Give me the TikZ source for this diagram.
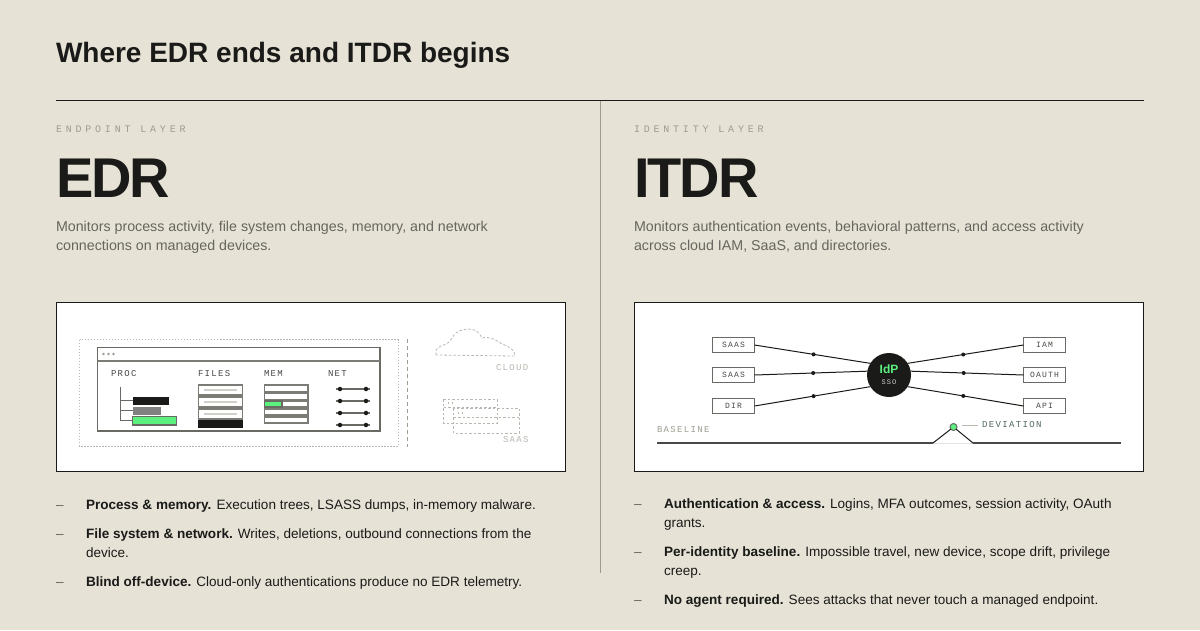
\documentclass[tikz,border=0pt]{standalone}
\usepackage{fontspec}
\usepackage{xcolor}
\usepackage{tikz}
\setmainfont{Liberation Sans}
\newfontfamily\headfont[LetterSpace=-3.5]{Liberation Sans}
\newfontfamily\tagfont[LetterSpace=38]{Liberation Mono}
\newfontfamily\labfont[LetterSpace=15]{Liberation Mono}
\definecolor{paper}{HTML}{E6E2D6}
\definecolor{ink}{HTML}{1A1A18}
\definecolor{line_gray}{HTML}{6A6A64}
\definecolor{cell_gray}{HTML}{7C7C76}
\definecolor{text_gray}{HTML}{66665E}
\definecolor{tag_gray}{HTML}{9C9C90}
\definecolor{faint_gray}{HTML}{B8B8B0}
\definecolor{pale_gray}{HTML}{D0D0CA}
\definecolor{mark_green}{HTML}{5CF07E}
\definecolor{dev_green}{HTML}{4E6A5A}
\tikzset{
    tnode/.style = {inner sep=0pt, outer sep=0pt, anchor=base west},
    title_text/.style = {tnode, ink, font=\bfseries\fontsize{28}{34}\selectfont},
    tag_text/.style = {tnode, tag_gray, font=\tagfont\fontsize{10}{12}\selectfont},
    head_text/.style = {tnode, ink, font=\headfont\bfseries\fontsize{56}{60}\selectfont},
    desc_text/.style = {tnode, text_gray, align=left, font=\fontsize{14.25}{19}\selectfont},
    bullet_text/.style = {tnode, ink, align=left, font=\fontsize{13.55}{19}\selectfont},
    dash_text/.style = {tnode, text_gray, font=\fontsize{13.6}{19}\selectfont},
    lab_text/.style = {tnode, ink!80, font=\labfont\fontsize{9}{11}\selectfont},
    far_text/.style = {lab_text, faint_gray},
    box_node/.style = {inner sep=0pt, outer sep=0pt, rectangle, draw=line_gray, line width=1.3pt, fill=white, minimum width=42pt, minimum height=15pt, text=ink!80, font=\labfont\fontsize{8}{10}\selectfont},
    hub_node/.style = {inner sep=0pt, outer sep=0pt, circle, fill=ink, minimum size=44pt},
    dot_node/.style = {inner sep=0pt, circle, fill=ink, minimum size=4pt},
    net_dot/.style = {inner sep=0pt, circle, fill=ink, minimum size=4.5pt},
    link/.style = {draw=ink, line width=1pt},
    cell/.style = {draw=cell_gray, line width=1.4pt, fill=white},
    far_dash/.style = {draw=faint_gray, line width=0.8pt, dash pattern=on 2.5pt off 2pt}
}
\begin{document}
\begin{tikzpicture}[x=1pt, y=-1pt]
    \useasboundingbox (0,0) rectangle (1200,630);
    \fill[paper] (0,0) rectangle (1200,630);

    \node [title_text] (title) at (56,62) {Where EDR ends and ITDR begins};
    \draw [ink, line width=1pt] (56,100.5) -- (1144,100.5);
    \draw [tag_gray, line width=1pt] (600.5,100.5) -- (600.5,573);

    % left column
    \node [tag_text] (edr_tag) at (56,132.5) {ENDPOINT LAYER};
    \node [head_text] (edr_head) at (56,197) {EDR};
    \node [desc_text] (edr_desc) at (56,250) {Monitors process activity, file system changes, memory, and network\\connections on managed devices.};

    % right column
    \node [tag_text] (itdr_tag) at (634,132.5) {IDENTITY LAYER};
    \node [head_text] (itdr_head) at (634,197) {ITDR};
    \node [desc_text] (itdr_desc) at (634,250) {Monitors authentication events, behavioral patterns, and access activity\\across cloud IAM, SaaS, and directories.};

    \draw [ink, line width=1pt, fill=white] (56.5,302.5) rectangle (565.5,471.5);
    \draw [ink, line width=1pt, fill=white] (634.5,302.5) rectangle (1143.5,471.5);

    % device boundary
    \draw [faint_gray, line width=1pt, dash pattern=on 1.5pt off 1.5pt] (79.5,339.5) rectangle (398,446);
    \draw [tag_gray, line width=1pt, dash pattern=on 4pt off 3pt] (407.5,339) -- (407.5,447);

    % window
    \draw [line_gray, line width=1.5pt] (97.5,347.5) rectangle (380,431);
    \draw [cell_gray, line width=1.2pt] (97.5,361) -- (380,361);
    \fill [tag_gray] (103.5,354) circle (1.3pt) (108.5,354) circle (1.3pt) (113.5,354) circle (1.3pt);
    \node [lab_text] (proc_lab) at (111,376.5) {PROC};
    \node [lab_text] (files_lab) at (198,376.5) {FILES};
    \node [lab_text] (mem_lab) at (264,376.5) {MEM};
    \node [lab_text] (net_lab) at (328,376.5) {NET};

    % process tree
    \draw [line_gray, line width=1pt] (120.5,387) -- (120.5,420.5) -- (133,420.5);
    \draw [line_gray, line width=1pt] (120.5,400.5) -- (133,400.5);
    \draw [line_gray, line width=1pt] (120.5,410.5) -- (133,410.5);
    \fill [ink] (133,397) rectangle (169,405);
    \fill [gray] (133,407) rectangle (161,415);
    \draw [line_gray, line width=1.2pt, fill=mark_green] (132.5,416.5) rectangle (176.5,425);

    % file rows
    \draw [cell] (198.5,385) rectangle (242.5,395);
    \draw [cell] (198.5,397) rectangle (242.5,407);
    \draw [cell] (198.5,409) rectangle (242.5,419);
    \fill [ink] (198,420) rectangle (243,427.5);
    \draw [pale_gray, line width=1.2pt] (204,390) -- (237,390);
    \draw [pale_gray, line width=1.2pt] (204,402) -- (237,402);
    \draw [pale_gray, line width=1.2pt] (204,414) -- (237,414);

    % memory rows
    \draw [cell] (264.5,385) rectangle (308,391.5);
    \draw [cell] (264.5,393) rectangle (308,399.5);
    \draw [cell] (264.5,401) rectangle (308,407);
    \draw [cell] (264.5,409) rectangle (308,415);
    \draw [cell] (264.5,417) rectangle (308,423);
    \draw [line_gray, line width=1.2pt, fill=mark_green] (264.5,401) rectangle (282,407);

    % net lines
    \draw [line_gray, line width=1.2pt] (336,389) -- (370,389);
    \draw [line_gray, line width=1.2pt] (336,401) -- (370,401);
    \draw [line_gray, line width=1.2pt] (336,413) -- (370,413);
    \draw [line_gray, line width=1.2pt] (336,425) -- (370,425);
    \node [net_dot] (net_a1) at (340,389) {};
    \node [net_dot] (net_a2) at (366,389) {};
    \node [net_dot] (net_b1) at (340,401) {};
    \node [net_dot] (net_b2) at (366,401) {};
    \node [net_dot] (net_c1) at (340,413) {};
    \node [net_dot] (net_c2) at (366,413) {};
    \node [net_dot] (net_d1) at (340,425) {};
    \node [net_dot] (net_d2) at (366,425) {};

    % off-device
    \draw [far_dash] (436,355) .. controls (435,350) and (437,348) .. (441,346) .. controls (447,344) and (450,342) .. (452,338) .. controls (454,332) and (462,329) .. (468,329) .. controls (475,329) and (478,331) .. (482,338) .. controls (490,336) and (496,340) .. (502,344) .. controls (510,347) and (515,350) .. (515,356) -- cycle;
    \node [far_text] (cloud_lab) at (496,370.5) {CLOUD};
    \draw [far_dash] (443.5,399) rectangle (497,423);
    \draw [far_dash] (443.5,407) -- (497,407);
    \draw [far_dash] (453.5,408) rectangle (519,433);
    \draw [far_dash] (453.5,417) -- (519,417);
    \draw [far_dash] (448,402) -- (448,404) (452,402) -- (452,404);
    \draw [far_dash] (458,412) -- (458,414) (462,412) -- (462,414);
    \node [far_text] (saas_lab) at (503,442.5) {SAAS};

    % identity graph
    \node [hub_node] (idp) at (889,375) {};
    \node [inner sep=0pt, mark_green, font=\bfseries\fontsize{12}{14}\selectfont] (idp_text) at (889,369) {IdP};
    \node [inner sep=0pt, pale_gray, font=\labfont\fontsize{7}{9}\selectfont] (sso_text) at (889,382.5) {SSO};

    \node [box_node] (saas_a) at (733.5,345) {SAAS};
    \node [box_node] (saas_b) at (733.5,375) {SAAS};
    \node [box_node] (dir) at (733.5,406) {DIR};
    \node [box_node] (iam) at (1044.5,345) {IAM};
    \node [box_node] (oauth) at (1044.5,375) {OAUTH};
    \node [box_node] (api) at (1044.5,406) {API};

    \draw [link] (saas_a.east) -- node [dot_node, pos=0.51] (dot_a) {} (idp.148);
    \draw [link] (saas_b.east) -- node [dot_node, pos=0.52] (dot_b) {} (idp.170);
    \draw [link] (dir.east) -- node [dot_node, pos=0.51] (dot_c) {} (idp.212);
    \draw [link] (iam.west) -- node [dot_node, pos=0.52] (dot_d) {} (idp.32);
    \draw [link] (oauth.west) -- node [dot_node, pos=0.53] (dot_e) {} (idp.10);
    \draw [link] (api.west) -- node [dot_node, pos=0.52] (dot_f) {} (idp.-32);

    % baseline
    \node [lab_text, tag_gray] (base_lab) at (657,432.5) {BASELINE};
    \node [inner sep=0pt, outer sep=0pt, circle, draw=line_gray, line width=1pt, fill=mark_green, minimum size=7pt] (dev_dot) at (953.5,427) {};
    \coordinate (base_start) at (657,443);
    \coordinate (bump_left) at (933,443);
    \coordinate (bump_right) at (973,443);
    \coordinate (base_end) at (1121,443);
    \coordinate (lead_start) at (962,425);
    \coordinate (lead_end) at (978,425);
    \draw [pale_gray!60, line width=0.8pt] (bump_left) -- (bump_right);
    \draw [ink!80, line width=1.2pt] (base_start) -- (bump_left);
    \draw [ink, line width=1pt] (bump_left) -- (dev_dot);
    \draw [ink, line width=1pt] (dev_dot) -- (bump_right);
    \draw [ink!80, line width=1.2pt] (bump_right) -- (base_end);
    \draw [faint_gray, line width=1pt] (lead_start) -- (lead_end);
    \node [lab_text, dev_green] (dev_lab) at (982,427.5) {DEVIATION};

    % left list
    \node [dash_text] (edr_d1) at (56,509) {--};
    \node [bullet_text] (edr_b1) at (86,509) {\textbf{Process \& memory.} Execution trees, LSASS dumps, in-memory malware.};
    \node [dash_text] (edr_d2) at (56,538) {--};
    \node [bullet_text] (edr_b2) at (86,557) {\textbf{File system \& network.} Writes, deletions, outbound connections from the\\device.};
    \node [dash_text] (edr_d3) at (56,586) {--};
    \node [bullet_text] (edr_b3) at (86,586) {\textbf{Blind off-device.} Cloud-only authentications produce no EDR telemetry.};

    % right list
    \node [dash_text] (itdr_d1) at (634,508) {--};
    \node [bullet_text] (itdr_b1) at (664,527) {\textbf{Authentication \& access.} Logins, MFA outcomes, session activity, OAuth\\grants.};
    \node [dash_text] (itdr_d2) at (634,556) {--};
    \node [bullet_text] (itdr_b2) at (664,575) {\textbf{Per-identity baseline.} Impossible travel, new device, scope drift, privilege\\creep.};
    \node [dash_text] (itdr_d3) at (634,604) {--};
    \node [bullet_text] (itdr_b3) at (664,604) {\textbf{No agent required.} Sees attacks that never touch a managed endpoint.};
\end{tikzpicture}
\end{document}
